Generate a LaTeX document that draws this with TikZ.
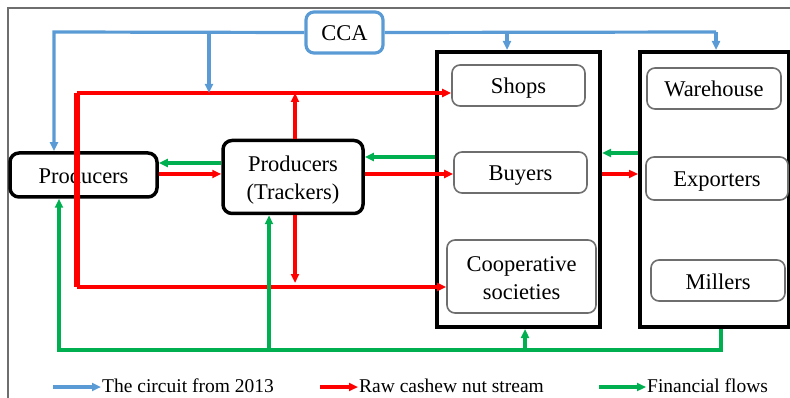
\documentclass[tikz,border=0pt]{standalone}
\usepackage{fontspec}
\setmainfont{Liberation Serif}
\usetikzlibrary{arrows.meta}
\definecolor{cblue}{RGB}{91,155,213}
\definecolor{cred}{RGB}{255,0,0}
\definecolor{cgreen}{RGB}{0,176,80}
\definecolor{cgray}{RGB}{110,110,110}
\tikzset{
  tip/.style={-{Triangle[length=9pt,width=8pt]}},
  bflow/.style={draw=cblue,line width=3.2pt},
  rflow/.style={draw=cred,line width=3.5pt},
  gflow/.style={draw=cgreen,line width=3.2pt},
  oneline/.style={text height=17pt,text depth=0pt},
  mainbox/.style={draw=black,line width=3.5pt,rounded corners=9pt,inner sep=0pt,align=center,
    font=\fontsize{22.5}{28}\selectfont},
  bigbox/.style={draw=black,line width=4pt,inner sep=0pt},
  inbox/.style={draw=cgray,line width=1.6pt,rounded corners=8pt,inner sep=0pt,align=center,fill=white,
    font=\fontsize{22.5}{28}\selectfont},
  ccabox/.style={draw=cblue,line width=3.2pt,rounded corners=8pt,inner sep=0pt,
    font=\fontsize{22.5}{28}\selectfont},
  txt/.style={inner sep=0pt,align=center,font=\fontsize{22.5}{28}\selectfont},
  legtext/.style={anchor=west,inner sep=0pt,font=\fontsize{19.5}{23}\selectfont}
}
\begin{document}
\begin{tikzpicture}[x=1pt,y=-1pt]
\useasboundingbox (0,0) rectangle (790,398);
% outer frame
\draw[cgray,line width=1.6pt] (8,398) -- (8,8) -- (790,8);
% boxes
\node[bigbox,minimum width=163pt,minimum height=275pt] (box1) at (518.5,189.5) {};
\node[bigbox,minimum width=149pt,minimum height=275pt] (box2) at (714.5,189.5) {};
\node[ccabox,oneline,minimum width=77pt,minimum height=41pt] (cca) at (344.5,32.5) {CCA};
\node[mainbox,oneline,minimum width=147pt,minimum height=44pt] (prod) at (83.5,175) {Producers};
\node[mainbox,minimum width=140pt,minimum height=73pt] (track) at (293,177) {};
\node[txt] (tracktxt) at ([yshift=-3pt]track.center) {Producers\\(Trackers)};
\node[inbox,oneline,minimum width=133pt,minimum height=41pt] (shops) at (518.5,85.5) {Shops};
\node[inbox,oneline,minimum width=133pt,minimum height=41pt] (buyers) at (520.5,172.5) {Buyers};
\node[inbox,minimum width=149pt,minimum height=73pt] (coop) at (521.5,276.5) {};
\node[txt] (cooptxt) at ([yshift=-1.3pt]coop.center) {Cooperative\\societies};
\node[inbox,oneline,minimum width=134pt,minimum height=41pt] (ware) at (714,88.5) {Warehouse};
\node[inbox,oneline,minimum width=142pt,minimum height=43pt] (exp) at (717,178.5) {Exporters};
\node[inbox,oneline,minimum width=134pt,minimum height=41pt] (mill) at (718,280.5) {Millers};
% junction coordinates
\coordinate (bL) at (54,32);
\coordinate (bM) at (209,32);
\coordinate (bA) at (507,32);
\coordinate (bR) at (716,32);
\coordinate (rTL) at (77,93);
\coordinate (rBL) at (77,287);
\coordinate (rM) at (209,93);
\coordinate (gR) at (721,350);
\coordinate (gL) at (59,350);
\coordinate (gT) at (269,350);
\coordinate (gA) at (525,350);
% red flows
\draw[rflow,line width=6pt] (rTL) -- (rBL);
\draw[rflow,tip] (rTL) -- (shops.west |- rTL);
\draw[rflow,tip] (rBL) -- (coop.west |- rBL);
\draw[rflow,tip] (prod.east |- 0,174) -- (track.west |- 0,174);
\draw[rflow,tip] (track.north -| 295,0) -- (295,93);
\draw[rflow,tip] (track.south -| 295,0) -- (295,283);
\draw[rflow,tip] (track.east |- 0,174) -- (buyers.west |- 0,174);
\draw[rflow,tip] (box1.east |- 0,174) -- (box2.west |- 0,174);
% blue flows
\draw[bflow,tip] (cca.west) -- (bL) -- (bL |- prod.north);
\draw[bflow,tip] (bM) -- (rM);
\draw[bflow] (cca.east) -- (bR);
\draw[bflow,tip] (bR) -- (bR |- box2.north);
\draw[bflow,tip] (bA) -- (bA |- box1.north);
% green flows
\draw[gflow,tip] (track.west |- 0,163) -- (prod.east |- 0,163);
\draw[gflow,tip] (box1.west |- 0,157) -- (track.east |- 0,157);
\draw[gflow,tip] (box2.west |- 0,153) -- (box1.east |- 0,153);
\draw[gflow,tip] (gR |- box2.south) -- (gR) -- (gL) -- (gL |- prod.south);
\draw[gflow,tip] (gT) -- (gT |- track.south);
\draw[gflow,tip] (gA) -- (gA |- box1.south);
% legend
\coordinate (l1a) at (53,387); \coordinate (l1b) at (101,387);
\coordinate (l2a) at (320,387); \coordinate (l2b) at (358,387);
\coordinate (l3a) at (599,387); \coordinate (l3b) at (646,387);
\draw[bflow,tip] (l1a) -- (l1b);
\node[legtext] (t1) at (102,386) {The circuit from 2013};
\draw[rflow,tip] (l2a) -- (l2b);
\node[legtext] (t2) at (359,386) {Raw cashew nut stream};
\draw[gflow,tip] (l3a) -- (l3b);
\node[legtext] (t3) at (647,386) {Financial flows};
\end{tikzpicture}
\end{document}
